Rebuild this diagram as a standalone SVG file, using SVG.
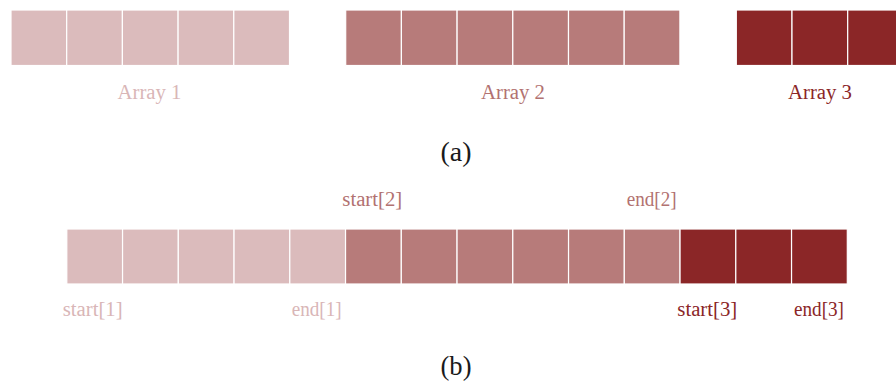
<svg xmlns="http://www.w3.org/2000/svg" width="896" height="386" viewBox="0 0 896 386">
<style>
.c{stroke:#ffffff;stroke-width:1.2}
.a1{fill:#dbbbbc}
.a2{fill:#b77b7a}
.a3{fill:#8b2627}
.t1{fill:#d9b6b7}
.t2{fill:#b27271}
.t3{fill:#8b2627}
.lab{font-size:20px;text-anchor:middle}
.cap{font-size:27px;fill:#1a1a1a;text-anchor:middle}
</style>
<rect width="896" height="386" fill="#ffffff"/>
<g font-family="'Liberation Serif', 'Times New Roman', serif">
<g id="array1-top">
<rect class="c a1" x="11" y="10" width="55.7" height="55.5"/>
<rect class="c a1" x="66.7" y="10" width="55.7" height="55.5"/>
<rect class="c a1" x="122.4" y="10" width="55.7" height="55.5"/>
<rect class="c a1" x="178.1" y="10" width="55.7" height="55.5"/>
<rect class="c a1" x="233.8" y="10" width="55.7" height="55.5"/>
<text class="lab t1" x="149.5" y="99" textLength="64" lengthAdjust="spacingAndGlyphs">Array 1</text>
</g>
<g id="array2-top">
<rect class="c a2" x="345.7" y="10" width="55.7" height="55.5"/>
<rect class="c a2" x="401.4" y="10" width="55.7" height="55.5"/>
<rect class="c a2" x="457.1" y="10" width="55.7" height="55.5"/>
<rect class="c a2" x="512.8" y="10" width="55.7" height="55.5"/>
<rect class="c a2" x="568.5" y="10" width="55.7" height="55.5"/>
<rect class="c a2" x="624.2" y="10" width="55.7" height="55.5"/>
<text class="lab t2" x="513" y="99" textLength="64" lengthAdjust="spacingAndGlyphs">Array 2</text>
</g>
<g id="array3-top">
<rect class="c a3" x="736.3" y="10" width="55.7" height="55.5"/>
<rect class="c a3" x="792" y="10" width="55.7" height="55.5"/>
<rect class="c a3" x="847.7" y="10" width="55.7" height="55.5"/>
<text class="lab t3" x="820" y="99" textLength="64" lengthAdjust="spacingAndGlyphs">Array 3</text>
</g>
<text id="caption-a" class="cap" x="456" y="161" textLength="31" lengthAdjust="spacingAndGlyphs">(a)</text>
<g id="array1-bottom">
<rect class="c a1" x="66.8" y="229" width="55.75" height="55"/>
<rect class="c a1" x="122.55" y="229" width="55.75" height="55"/>
<rect class="c a1" x="178.3" y="229" width="55.75" height="55"/>
<rect class="c a1" x="234.05" y="229" width="55.75" height="55"/>
<rect class="c a1" x="289.8" y="229" width="55.75" height="55"/>
<text class="lab t1" x="92.7" y="316" textLength="60" lengthAdjust="spacingAndGlyphs">start[1]</text>
<text class="lab t1" x="316.7" y="316" textLength="50" lengthAdjust="spacingAndGlyphs">end[1]</text>
</g>
<g id="array2-bottom">
<rect class="c a2" x="345.55" y="229" width="55.75" height="55"/>
<rect class="c a2" x="401.3" y="229" width="55.75" height="55"/>
<rect class="c a2" x="457.05" y="229" width="55.75" height="55"/>
<rect class="c a2" x="512.8" y="229" width="55.75" height="55"/>
<rect class="c a2" x="568.55" y="229" width="55.75" height="55"/>
<rect class="c a2" x="624.3" y="229" width="55.75" height="55"/>
<text class="lab t2" x="372.3" y="206" textLength="60" lengthAdjust="spacingAndGlyphs">start[2]</text>
<text class="lab t2" x="651.7" y="206" textLength="50" lengthAdjust="spacingAndGlyphs">end[2]</text>
</g>
<g id="array3-bottom">
<rect class="c a3" x="680.05" y="229" width="55.75" height="55"/>
<rect class="c a3" x="735.8" y="229" width="55.75" height="55"/>
<rect class="c a3" x="791.55" y="229" width="55.75" height="55"/>
<text class="lab t3" x="707.3" y="316" textLength="60" lengthAdjust="spacingAndGlyphs">start[3]</text>
<text class="lab t3" x="819" y="316" textLength="50" lengthAdjust="spacingAndGlyphs">end[3]</text>
</g>
<text id="caption-b" class="cap" x="456" y="375" textLength="31" lengthAdjust="spacingAndGlyphs">(b)</text>
</g>
</svg>
